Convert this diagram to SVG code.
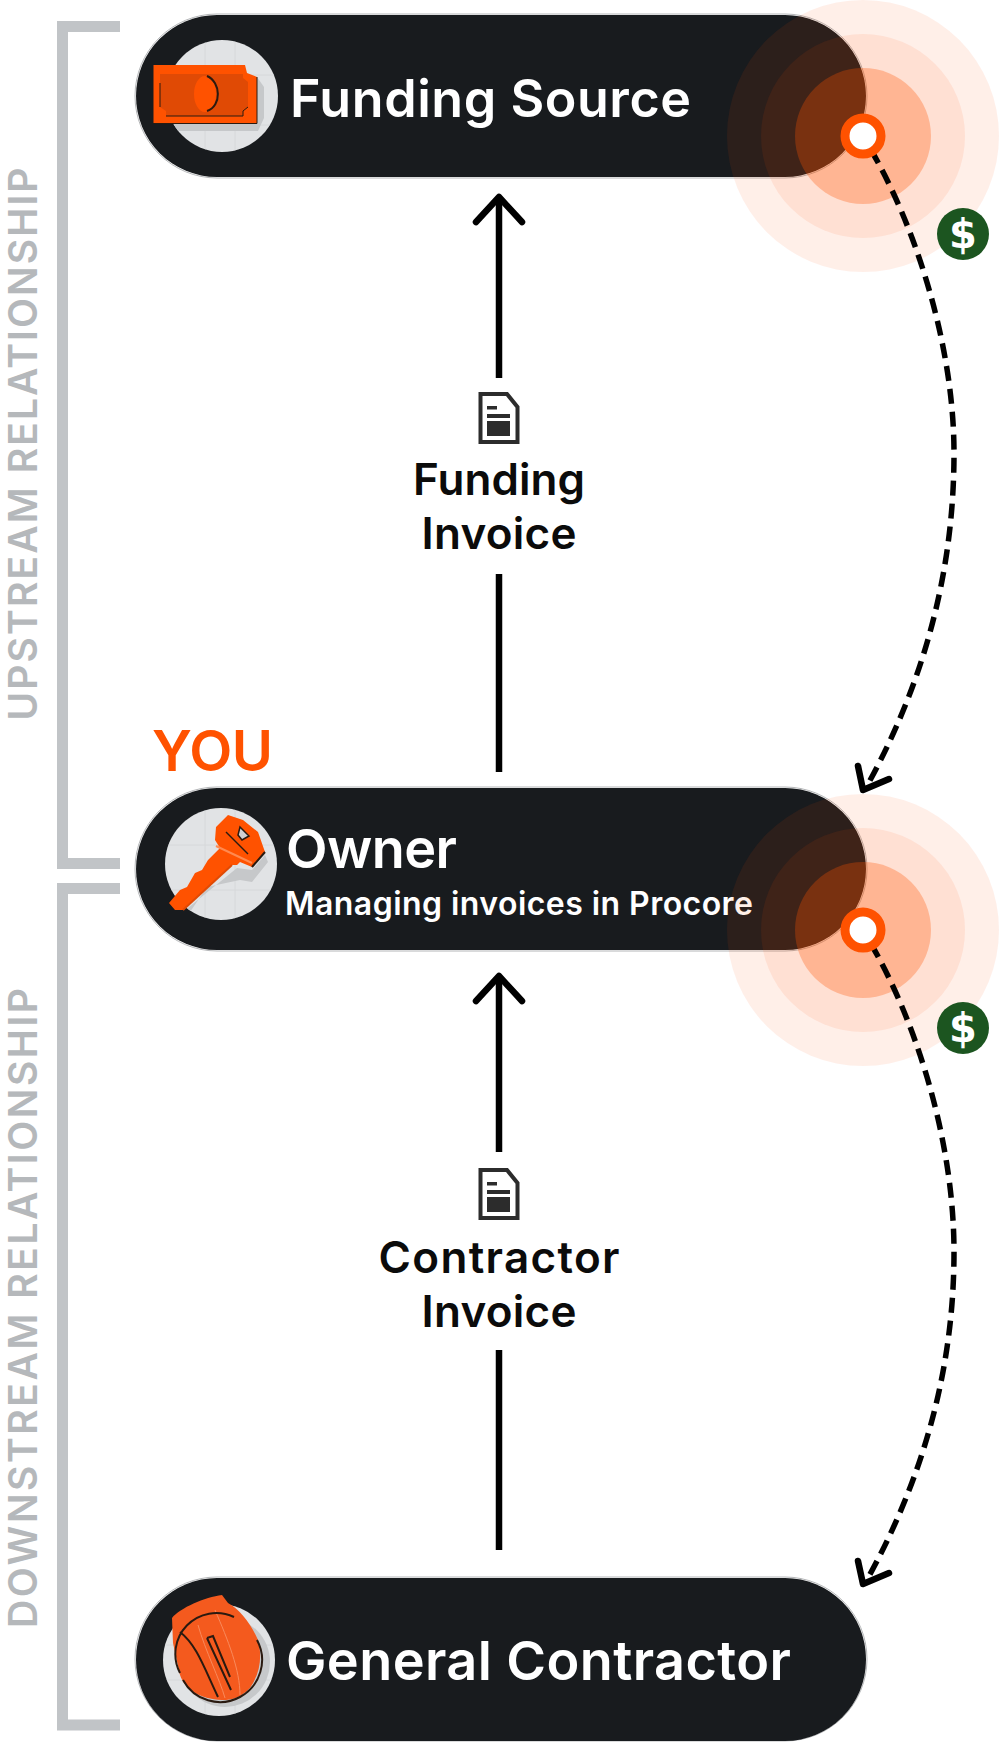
<svg xmlns="http://www.w3.org/2000/svg" width="1000" height="1742" viewBox="0 0 1000 1742">
<style>
text{font-family:Inter,"Liberation Sans",sans-serif}
.halo{fill:none;stroke:#b4b6b8;stroke-width:1}
.disc{fill:#e1e3e5}
.t{fill:#fff;font-weight:600}
.lab{fill:#0b0b0b;font-weight:600;font-size:44px;text-anchor:middle}
.br{fill:none;stroke:#c1c4c7;stroke-width:11}
.vt{fill:#b5b8bb;font-weight:600;font-size:39px;text-anchor:middle}
.a{fill:none;stroke:#000;stroke-width:6.500}
.h{fill:none;stroke:#000;stroke-width:6.500;stroke-linecap:round;stroke-linejoin:round}
.d{fill:none;stroke:#000;stroke-width:5.500;stroke-dasharray:15 8}
.r{fill:#ff5200}
.grid{stroke:#d6d8da;stroke-width:1;fill:none}
.k{fill:none;stroke:#2a1a10;stroke-width:2}
.sh{fill:#c6c8ca}
</style>
<defs>
<clipPath id="c1"><circle cx="222" cy="96" r="56"/></clipPath>
<clipPath id="c2"><circle cx="221" cy="864" r="56"/></clipPath>
<clipPath id="c3"><circle cx="219" cy="1660" r="56"/></clipPath>
<g id="doc">
<path d="M-18.500-24H8L18.500-11V24H-18.500Z" fill="#fff" stroke="#2c2c2c" stroke-width="4"/>
<path d="M-12-12H-2V-8.500H-12ZM-12-4H11V0H-12ZM-12 3H11V18H-12Z" fill="#2c2c2c"/>
</g>
<g id="pulse">
<circle r="136" class="r" opacity=".09"/>
<circle r="102" class="r" opacity=".09"/>
<circle r="68" class="r" opacity=".3"/>
</g>
<g id="dollar">
<circle r="26" fill="#1c5520"/>
<text y="14" text-anchor="middle" font-size="40" font-weight="700" fill="#fff" style="font-family:'DejaVu Sans',sans-serif">$</text>
</g>
</defs>

<g id="brackets">
<path class="br" d="M120 26.500H62.500V863.500H120"/>
<path class="br" d="M120 888.500H62.500V1725H120"/>
<text class="vt" transform="translate(37 444) rotate(-90)" textLength="553">UPSTREAM RELATIONSHIP</text>
<text class="vt" transform="translate(37 1308) rotate(-90)" textLength="640">DOWNSTREAM RELATIONSHIP</text>
</g>

<g id="funding-source">
<rect class="halo" x="135" y="14" width="732" height="164" rx="82"/>
<rect x="136" y="15" width="730" height="162" rx="81" fill="#181b1e"/>
<circle class="disc" cx="222" cy="96" r="56"/>
<g clip-path="url(#c1)">
<path class="grid" d="M205 40V152M235 40V152M167 75H277M167 125H277"/>
<path class="sh" d="M165 123V131H258L264 118V87L257 77Z"/>
</g>
<path d="M153.500 65H245L247 73L257 77V123H153.500Z" fill="#ff5200"/>
<path d="M153.500 123.500H257V77" fill="none" stroke="#2a1a10" stroke-width="1"/>
<path d="M160 74H243V78L248 82V107L243 111V116H166V111L160 107V83Z" fill="#e04a05"/>
<path d="M166 116H243V111L248 107M160 107V83" fill="none" stroke="#2a1a10" stroke-width="1"/>
<ellipse cx="205" cy="94" rx="11" ry="18" fill="#ff5200"/>
<path d="M207 76C221 82 222 106 207 111" class="k" stroke-width="2.500"/>
<text class="t" x="290" y="117" font-size="52" textLength="401">Funding Source</text>
</g>

<g id="owner">
<text x="152" y="771" font-size="56" font-weight="600" fill="#ff5200" textLength="121">YOU</text>
<rect class="halo" x="135" y="787" width="732" height="164" rx="82"/>
<rect x="136" y="788" width="730" height="162" rx="81" fill="#181b1e"/>
<circle class="disc" cx="221" cy="864" r="56"/>
<g clip-path="url(#c2)">
<path class="grid" d="M205 808V920M235 808V920M165 845H277M165 890H277"/>
<path class="sh" d="M183 912L237 868L252 870L265 855L268 862L252 882L240 880L207 887L190 912Z"/>
</g>
<path d="M228 815L216 827L215 840L220 848L208 860L202 870L195 873L187 887L180 890L169 903L175 910L183 910L232 865L237 865L240 862L252 867L265 852L258 832L243 820Z" fill="#ff5200"/>
<path d="M252 867L265 852" stroke="#2a1a10" stroke-width="2"/>
<path d="M183 910L232 865" stroke="#e04a05" stroke-width="2"/>
<path d="M240 827L249 836L242 840L238 835Z" fill="#cfd0d2" stroke="#2a1a10" stroke-width="1.500"/>
<path d="M226 832L248 854" stroke="#2a1a10" stroke-width="1.500"/>
<path d="M216 846L252 863" stroke="#ff8a50" stroke-width="2" fill="none"/>
<text class="t" x="286" y="868" font-size="54" textLength="171">Owner</text>
<text class="t" x="285" y="915" font-size="32" font-weight="400" textLength="468">Managing invoices in Procore</text>
</g>

<g id="general-contractor">
<rect class="halo" x="135" y="1577" width="732" height="164" rx="82"/>
<rect x="136" y="1578" width="730" height="163" rx="81" fill="#181b1e"/>
<circle class="disc" cx="219" cy="1660" r="56"/>
<g clip-path="url(#c3)">
<path class="grid" d="M205 1604V1716M235 1604V1716M163 1645H275M163 1680H275"/>
<circle cx="225" cy="1662" r="45" class="sh"/>
</g>
<path d="M172 1618C180 1608 205 1597 222 1595L228 1603C240 1610 250 1622 258 1640C262 1655 261 1672 250 1688C240 1698 233 1700 222 1700C200 1699 185 1690 180 1675L173 1643Z" fill="#f45a1e"/>
<path d="M215 1610C228 1640 240 1670 240 1695M198 1625C205 1650 220 1680 225 1698" fill="none" stroke="#f98a5c" stroke-width="1"/>
<path class="k" d="M234 1617A41 41 0 0 0 180 1673M257 1640A41 41 0 0 1 183 1680M180 1632C197 1645 205 1670 218 1697M207 1638L213 1636L230 1677M207 1638L231 1690"/>
<text class="t" x="286" y="1680" font-size="54" textLength="505">General Contractor</text>
</g>

<g id="pulses">
<use href="#pulse" x="863" y="136"/>
<use href="#pulse" x="863" y="930"/>
</g>

<g id="connectors">
<path class="a" d="M499 772V574M499 378V198"/>
<path class="h" d="M476 222L499 197L522 222"/>
<path class="a" d="M499 1550V1350M499 1152V976"/>
<path class="h" d="M476 1001L499 976L522 1001"/>
<path class="d" d="M871 150C912 220 954 340 954 453C954 570 925 680 868 784"/>
<path class="h" d="M858 766L863 790L889 779"/>
<path class="d" d="M871 944C912 1014 954 1134 954 1252C954 1366 925 1474 868 1578"/>
<path class="h" d="M858 1561L863 1584L889 1573"/>
</g>

<g id="markers">
<circle cx="863" cy="136" r="18" fill="#fff" stroke="#ff5200" stroke-width="9"/>
<circle cx="863" cy="930" r="18" fill="#fff" stroke="#ff5200" stroke-width="9"/>
<use href="#dollar" x="963" y="234"/>
<use href="#dollar" x="963" y="1028"/>
</g>

<g id="funding-invoice-label">
<use href="#doc" x="499" y="418"/>
<text class="lab" x="499" y="495" textLength="172">Funding</text>
<text class="lab" x="499" y="549" textLength="155">Invoice</text>
</g>
<g id="contractor-invoice-label">
<use href="#doc" x="499" y="1194"/>
<text class="lab" x="499" y="1273" textLength="241">Contractor</text>
<text class="lab" x="499" y="1327" textLength="155">Invoice</text>
</g>
</svg>
